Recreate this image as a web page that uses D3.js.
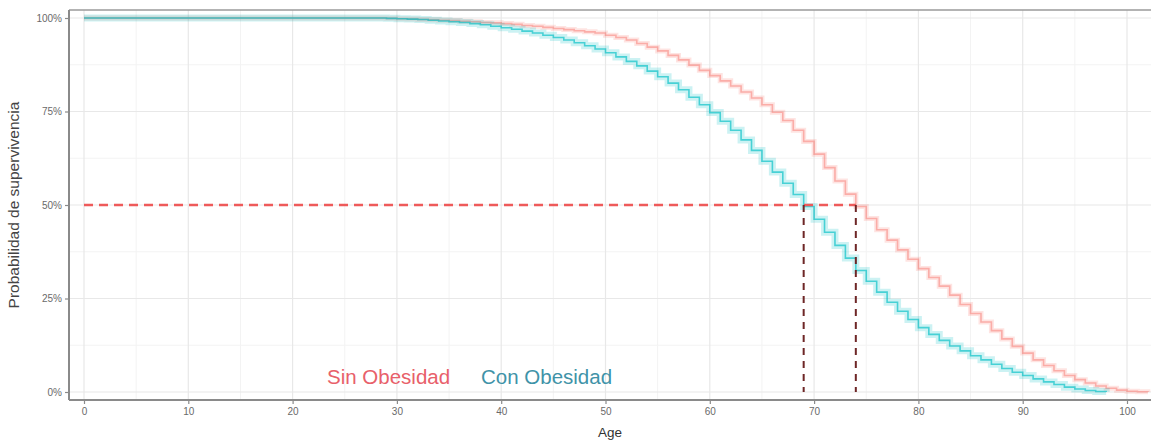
<!DOCTYPE html>
<html lang="es">
<head>
    <meta charset="UTF-8">
    <title>Curvas de supervivencia</title>
    <script src="https://d3js.org/d3.v7.min.js"></script>
    <style>
        body { margin: 0; background: #fff; font-family: "Liberation Sans", Arial, sans-serif; }
        svg { display: block; }
    </style>
</head>
<body>
<svg id="grafico" width="1151" height="444"></svg>
<script>
// Datos (probabilidad en %)
const edadesSin = [0,29,30,31,32,33,34,35,36,37,38,39,40,41,42,43,44,45,46,47,48,49,50,51,52,53,54,55,56,57,58,59,60,61,62,63,64,65,66,67,68,69,70,71,72,73,74,75,76,77,78,79,80,81,82,83,84,85,86,87,88,89,90,91,92,93,94,95,96,97,98,99,100,101,102];
const survSin = [100,99.9,99.8,99.7,99.6,99.5,99.4,99.3,99.1,99.0,98.8,98.7,
  98.5,98.3,98.0,97.8,97.5,97.2,96.9,96.6,96.3,96.0,
  95.4,94.8,94.1,93.2,92.2,91.2,90.0,88.8,87.4,86.0,
  84.6,83.2,81.8,80.2,78.6,76.8,74.8,72.6,70.0,67.0,
  63.6,60.0,56.4,52.9,49.6,46.4,43.4,40.6,38.0,35.5,
  33.0,30.6,28.3,25.9,23.4,21.0,18.7,16.4,14.2,12.2,
  10.4,8.6,7.1,5.7,4.4,3.3,2.4,1.6,1.0,0.5,
  0.2,0.05,0];

const edadesCon = [0,29,30,31,32,33,34,35,36,37,38,39,40,41,42,43,44,45,46,47,48,49,50,51,52,53,54,55,56,57,58,59,60,61,62,63,64,65,66,67,68,69,70,71,72,73,74,75,76,77,78,79,80,81,82,83,84,85,86,87,88,89,90,91,92,93,94,95,96,97,98];
const survCon = [100,99.9,99.8,99.7,99.6,99.4,99.2,99.0,98.8,98.5,98.2,97.8,
  97.4,97.0,96.5,96.0,95.4,94.8,94.1,93.4,92.6,91.7,
  90.7,89.6,88.4,87.2,85.8,84.3,82.6,80.8,78.8,76.8,
  74.7,72.4,70.0,67.4,64.6,61.7,58.8,55.8,52.8,49.6,
  46.2,42.7,39.2,35.8,32.5,29.6,26.7,24.0,21.6,19.4,
  17.2,15.4,13.8,12.3,11.0,9.7,8.6,7.4,6.3,5.3,
  4.4,3.5,2.7,2.0,1.3,0.8,0.4,0.15,0];

const medianas = [74, 69];           // Sin, Con
const ticksX = [0,10,20,30,40,50,60,70,80,90,100];
const ticksY = [0,25,50,75,100];
const etiquetas = ["Sin Obesidad", "Con Obesidad"];

const svg = d3.select("#grafico");
const ancho = +svg.attr("width");
const alto = +svg.attr("height");

const panel = {x0: 69, y0: 10, x1: 1152, y1: 400};

const x = d3.scaleLinear().domain([0, 100]).range([84, 1127]);
const y = d3.scaleLinear().domain([0, 100]).range([392, 18]);

// rejilla menor
const menoresX = d3.range(5, 105, 10);
const menoresY = [12.5, 37.5, 62.5, 87.5];
svg.append("g").selectAll("line").data(menoresX).join("line")
    .attr("x1", d => x(d)).attr("x2", d => x(d))
    .attr("y1", panel.y0).attr("y2", panel.y1)
    .attr("stroke", "#f3f3f3").attr("stroke-width", 1);
svg.append("g").selectAll("line").data(menoresY).join("line")
    .attr("y1", d => y(d)).attr("y2", d => y(d))
    .attr("x1", panel.x0).attr("x2", panel.x1)
    .attr("stroke", "#f3f3f3").attr("stroke-width", 1);
// rejilla mayor
svg.append("g").selectAll("line").data(ticksX).join("line")
    .attr("x1", d => x(d)).attr("x2", d => x(d))
    .attr("y1", panel.y0).attr("y2", panel.y1)
    .attr("stroke", "#e8e8e8").attr("stroke-width", 1.2);
svg.append("g").selectAll("line").data(ticksY).join("line")
    .attr("y1", d => y(d)).attr("y2", d => y(d))
    .attr("x1", panel.x0).attr("x2", panel.x1)
    .attr("stroke", "#e8e8e8").attr("stroke-width", 1.2);

// curvas escalonadas
const linea = d3.line()
    .x(d => x(d[0])).y(d => y(d[1]))
    .curve(d3.curveStepAfter);

const series = [
  {edades: edadesSin, surv: survSin, color: "#F8766D", banda: 5, op: 0.5},
  {edades: edadesCon, surv: survCon, color: "#00BFC4", banda: 7, op: 0.65}
];

series.forEach(s => {
  const pts = s.edades.map((e, i) => [e, s.surv[i]]);
  svg.append("path").datum(pts)
     .attr("d", linea)
     .attr("fill", "none")
     .attr("stroke", s.color)
     .attr("stroke-opacity", 0.2)
     .attr("stroke-width", s.banda);
  svg.append("path").datum(pts)
     .attr("d", linea)
     .attr("fill", "none")
     .attr("stroke", s.color)
     .attr("stroke-opacity", s.op)
     .attr("stroke-width", 1.6);
});

// líneas de mediana
svg.append("line")
    .attr("x1", x(0)).attr("x2", x(d3.max(medianas)))
    .attr("y1", y(50)).attr("y2", y(50))
    .attr("stroke", "#ee5a5a").attr("stroke-width", 2.4)
    .attr("stroke-dasharray", "9,6");
svg.append("g").selectAll("line").data(medianas).join("line")
    .attr("x1", d => x(d)).attr("x2", d => x(d))
    .attr("y1", y(50)).attr("y2", y(0))
    .attr("stroke", "#6e2626").attr("stroke-width", 2)
    .attr("stroke-dasharray", "7,6");

// borde del panel / ejes
svg.append("line").attr("x1", panel.x0).attr("x2", panel.x1)
    .attr("y1", panel.y0).attr("y2", panel.y0)
    .attr("stroke", "#9a9a9a").attr("stroke-width", 1.5);
svg.append("line").attr("x1", panel.x0).attr("x2", panel.x0)
    .attr("y1", panel.y0).attr("y2", panel.y1)
    .attr("stroke", "#8a8a8a").attr("stroke-width", 2);
svg.append("line").attr("x1", panel.x0).attr("x2", panel.x1)
    .attr("y1", panel.y1).attr("y2", panel.y1)
    .attr("stroke", "#8a8a8a").attr("stroke-width", 2);

// ejes
const ejeX = svg.append("g")
    .attr("transform", `translate(0,${panel.y1})`)
    .call(d3.axisBottom(x).tickValues(ticksX).tickSize(4).tickPadding(4));
const ejeY = svg.append("g")
    .attr("transform", `translate(${panel.x0},0)`)
    .call(d3.axisLeft(y).tickValues(ticksY).tickFormat(d => d + "%").tickSize(4).tickPadding(3));
[ejeX, ejeY].forEach(g => {
  g.select(".domain").remove();
  g.selectAll(".tick line").attr("stroke", "#8a8a8a").attr("stroke-width", 1.2);
  g.selectAll(".tick text")
    .attr("fill", "#6a6a6a")
    .style("font-size", "10px")
    .style("font-family", "'Liberation Sans', Arial, sans-serif");
});

// títulos
svg.append("text")
    .attr("x", (panel.x0 + ancho) / 2).attr("y", 437)
    .attr("text-anchor", "middle")
    .attr("fill", "#333")
    .style("font-size", "13.5px")
    .text("Age");
svg.append("text")
    .attr("transform", `translate(19,${(panel.y0 + panel.y1) / 2}) rotate(-90)`)
    .attr("text-anchor", "middle")
    .attr("fill", "#444")
    .style("font-size", "15.5px")
    .text("Probabilidad de supervivencia");

// leyenda dentro del panel
const leyenda = svg.append("g");
leyenda.append("text").attr("x", 327).attr("y", 384)
    .attr("fill", "#e8606a").style("font-size", "20.5px").text(etiquetas[0]);
leyenda.append("text").attr("x", 481).attr("y", 384)
    .attr("fill", "#3f93a8").style("font-size", "20.5px").text(etiquetas[1]);
</script>
</body>
</html>
